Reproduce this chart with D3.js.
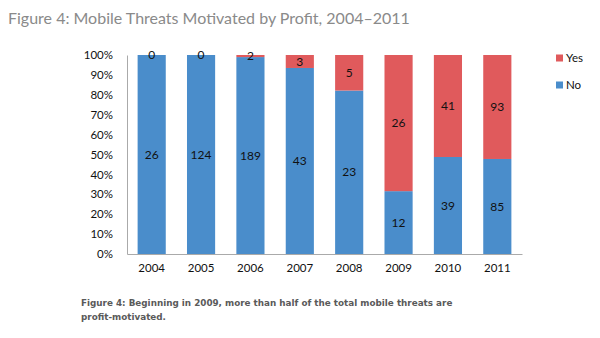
<!DOCTYPE html>
<html><head><meta charset="utf-8">
<script src="https://cdn.jsdelivr.net/npm/d3@7"></script>
<style>body{margin:0;background:#fff}svg{display:block}</style>
</head><body>
<script>
const years = ["2004","2005","2006","2007","2008","2009","2010","2011"];
const noCounts = [26,124,189,43,23,12,39,85];
const yesCounts = [0,0,2,3,5,26,41,93];
const yTicks = [0,0.1,0.2,0.3,0.4,0.5,0.6,0.7,0.8,0.9,1];
const seriesNames = ["Yes","No"];
const colors = {Yes:"#e05a5c", No:"#4a8dcb"};

const W=600,H=338;
const svg=d3.select("body").append("svg").attr("width",W).attr("height",H);
const font="Lato, 'Open Sans', sans-serif";

svg.append("text").attr("x",8).attr("y",24).attr("font-family",font).attr("font-size",16)
  .attr("fill","#8a8a8a").text("Figure 4: Mobile Threats Motivated by Profit, 2004\u20132011");

const x=d3.scaleBand().domain(years).range([127,522]).paddingInner(0.43).paddingOuter(0.215);
const y=d3.scaleLinear().domain([0,1]).range([254,55]);

const data=years.map((yr,i)=>{const t=noCounts[i]+yesCounts[i];return {yr,no:noCounts[i],yes:yesCounts[i],pNo:noCounts[i]/t};});

// bars
svg.append("g").selectAll("rect.no").data(data).join("rect")
  .attr("x",d=>x(d.yr)).attr("width",x.bandwidth())
  .attr("y",d=>y(d.pNo)).attr("height",d=>y(0)-y(d.pNo)).attr("fill",colors.No);
svg.append("g").selectAll("rect.yes").data(data).join("rect")
  .attr("x",d=>x(d.yr)).attr("width",x.bandwidth())
  .attr("y",y(1)).attr("height",d=>y(d.pNo)-y(1)).attr("fill",colors.Yes);

// labels
const lab=svg.append("g").attr("font-family",font).attr("font-size",12).attr("fill","#111").attr("text-anchor","middle");
lab.selectAll("text.n").data(data).join("text").attr("x",d=>x(d.yr)+x.bandwidth()/2)
  .attr("y",d=>y(d.pNo/2)).attr("dy","0.35em").text(d=>d.no);
lab.selectAll("text.y").data(data).join("text").attr("x",d=>x(d.yr)+x.bandwidth()/2)
  .attr("y",d=>y((1+d.pNo)/2)).attr("dy","0.35em").text(d=>d.yes);

// axes
const ya=svg.append("g").attr("transform","translate(127,0)")
  .call(d3.axisLeft(y).tickValues(yTicks).tickFormat(d3.format(".0%")).tickSize(0).tickPadding(14));
ya.select(".domain").attr("stroke","#aaa");
ya.selectAll("text").attr("font-family",font).attr("font-size",11.5).attr("fill","#111");
const xa=svg.append("g").attr("transform","translate(0,254)")
  .call(d3.axisBottom(x).tickSize(0).tickPadding(10));
xa.select(".domain").attr("stroke","#aaa");
xa.selectAll("text").attr("font-family",font).attr("font-size",11.5).attr("fill","#111");

// legend
const lg=svg.append("g").selectAll("g").data(seriesNames).join("g")
  .attr("transform",(d,i)=>`translate(556,${58+i*27})`);
lg.append("rect").attr("x",0).attr("y",-3.5).attr("width",7).attr("height",7).attr("fill",d=>colors[d]);
lg.append("text").attr("x",10).attr("dy","0.35em").attr("font-family",font).attr("font-size",11.5).attr("fill","#111").text(d=>d);

// caption
const cap=svg.append("text").attr("font-family","'DejaVu Sans', sans-serif").attr("font-size",8.8).attr("font-weight","bold").attr("fill","#5a5a5a");
cap.append("tspan").attr("x",81).attr("y",306).text("Figure 4: Beginning in 2009, more than half of the total mobile threats are");
cap.append("tspan").attr("x",81).attr("y",320).text("profit-motivated.");
</script>
</body></html>
